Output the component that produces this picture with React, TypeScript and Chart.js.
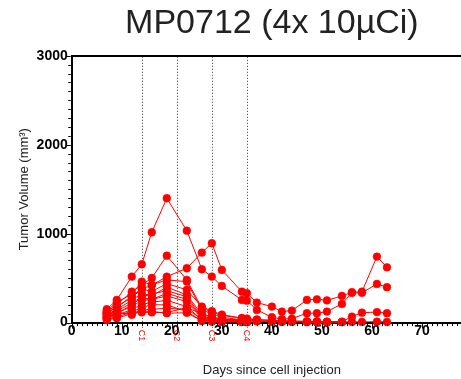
import React, { useEffect, useRef } from "react";
import { Chart, registerables } from "chart.js";

Chart.register(...registerables);

// ---- data ----
const titleText = "MP0712 (4x 10µCi)";
const xTitle = "Days since cell injection";
const yTitle = "Tumor Volume (mm³)";

const days = [7, 9, 12, 14, 16, 19, 23, 26, 28, 30, 34, 35, 37, 40, 42, 44, 47, 49, 51, 54, 56, 58, 61, 63];
const _ = null;

const mouseA = [150, 255, 517, 656, 1016, 1398, 1034, 600, 517, 412, 255, 247, 143, 60, 40, 45, 106, 106, 124, 210, 335, 335, 435, 398];
const mouseB = [110, 170, 300, 380, 420, 517, 611, 787, 892, 592, 348, 330, 225, 180, 124, 135, 255, 262, 250, 300, 341, 348, 742, 622];
const mouseC = [120, 200, 348, 424, 502, 753, 480, 165, 120, 80, 50, 40, 30, 25, 20, 20, 15, 15, 12, 10, 67, 112, 118, 106];
const mouseD = [60, 90, 120, 115, 115, 115, 165, 105, 60, 40, 25, 20, 15, 12, 10, 10, 8, 8, 8, 8, 8, 8, 10, 8];
const mouseE = [130, 230, 320, 461, 424, 480, 461, 142, 100, 60, 30, 25, 20, 15, 12, 10, 8, 5, 5, 5, _, _, _, _];
const mouseF = [110, 180, 280, 380, 350, 440, 368, 180, 130, 90, 50, 45, 35, 25, 20, 15, 10, 8, 6, _, _, _, _, _];
const mouseG = [90, 150, 250, 330, 300, 400, 311, 90, 60, 40, 30, 25, 20, 12, 10, _, _, _, _, _, _, _, _, _];
const mouseH = [80, 130, 220, 290, 320, 360, 290, 67, 50, 30, 20, 15, _, _, _, _, _, _, _, _, _, _, _, _];
const mouseI = [70, 110, 180, 250, 260, 300, 236, 50, 30, 20, 15, 12, _, _, _, _, _, _, _, _, _, _, _, _];
const mouseJ = [50, 80, 150, 200, 230, 250, 180, 30, 20, 15, 10, 10, _, _, _, _, _, _, _, _, _, _, _, _];
const mouseK = [40, 60, 120, 170, 200, 200, 124, 20, 15, 10, 8, 5, _, _, _, _, _, _, _, _, _, _, _, _];
const mouseL = [30, 50, 100, 140, 150, 160, 150, 40, 25, 15, 10, 8, _, _, _, _, _, _, _, _, _, _, _, _];
const mouseM = [100, 120, 87, 130, 124, 106, 110, 20, 11, 11, 10, 8, _, _, _, _, _, _, _, _, _, _, _, _];
const mouseN = [60, 100, 200, 280, 260, 330, 260, 60, 40, 25, 15, 12, _, _, _, _, _, _, _, _, _, _, _, _];

const seriesList = [mouseA, mouseB, mouseC, mouseD, mouseE, mouseF, mouseG, mouseH, mouseI, mouseJ, mouseK, mouseL, mouseM, mouseN];

const xMin = 0;
const xMax = 80;
const xStep = 10;
const xMinorStep = 1;
const yMin = 0;
const yMax = 3000;
const yStep = 1000;
const yMinorStep = 100;

const cycleDays = [14, 21, 28, 35];
const cycleLabels = ["C1", "C2", "C3", "C4"];

const FONT = "'Liberation Sans', Arial, sans-serif";
const RED = "rgb(255,0,0)";

const decorPlugin = {
  id: "decor",
  beforeDatasetsDraw(chart: any) {
    const { ctx, chartArea, scales } = chart;
    const x = scales.x;
    ctx.save();
    ctx.strokeStyle = "#333";
    ctx.lineWidth = 1;
    ctx.setLineDash([1, 2]);
    cycleDays.forEach((d) => {
      const px = Math.round(x.getPixelForValue(d)) + 0.5;
      ctx.beginPath();
      ctx.moveTo(px, chartArea.top + 1);
      ctx.lineTo(px, chartArea.bottom + 5);
      ctx.stroke();
    });
    ctx.restore();
  },
  afterDraw(chart: any) {
    const { ctx, chartArea, scales } = chart;
    const x = scales.x;
    const y = scales.y;
    ctx.save();
    ctx.strokeStyle = "#000";
    ctx.lineWidth = 1;
    for (let d = xMin; d <= xMax; d += xMinorStep) {
      const px = Math.round(x.getPixelForValue(d)) + 0.5;
      const len = d % xStep === 0 ? 5 : 2.5;
      ctx.beginPath();
      ctx.moveTo(px, chartArea.bottom + 1);
      ctx.lineTo(px, chartArea.bottom + 1 + len);
      ctx.stroke();
    }
    for (let v = yMin; v <= yMax; v += yMinorStep) {
      const py = Math.round(y.getPixelForValue(v)) + 0.5;
      const len = v % yStep === 0 ? 5 : 2.5;
      ctx.beginPath();
      ctx.moveTo(chartArea.left - 1, py);
      ctx.lineTo(chartArea.left - 1 - len, py);
      ctx.stroke();
    }
    ctx.fillStyle = RED;
    ctx.font = "9px " + FONT;
    ctx.textAlign = "center";
    ctx.textBaseline = "middle";
    cycleDays.forEach((d, i) => {
      const px = x.getPixelForValue(d);
      ctx.save();
      ctx.translate(px, chartArea.bottom + 13);
      ctx.rotate(Math.PI / 2);
      ctx.fillText(cycleLabels[i], 0, 0);
      ctx.restore();
    });
    ctx.restore();
  },
};

export default function App() {
  const ref = useRef<HTMLCanvasElement | null>(null);

  useEffect(() => {
    if (!ref.current) return;
    const datasets = seriesList.map((vals, k) => ({
      label: "Mouse " + (k + 1),
      data: days
        .map((d, i) => ({ x: d, y: vals[i] }))
        .filter((p) => p.y !== null && p.y !== undefined),
      borderColor: RED,
      backgroundColor: RED,
      borderWidth: 1,
      pointRadius: 3.9,
      pointBorderWidth: 0.5,
      pointBackgroundColor: RED,
      pointBorderColor: RED,
      tension: 0,
      clip: false as any,
    }));

    const chart = new Chart(ref.current, {
      type: "line",
      data: { datasets },
      plugins: [decorPlugin],
      options: {
        animation: false,
        responsive: false,
        devicePixelRatio: 1,
        layout: { padding: { left: 0, right: 18, top: 0, bottom: 1 } },
        plugins: {
          legend: { display: false },
          tooltip: { enabled: false },
          title: {
            display: true,
            text: titleText,
            fullSize: false,
            color: "#222",
            font: { family: FONT, size: 34, weight: "normal" },
            padding: { top: 3, bottom: 12 },
          },
        },
        scales: {
          x: {
            type: "linear",
            min: xMin,
            max: xMax,
            grid: { display: true, drawTicks: false, color: "rgba(0,0,0,0)" },
            border: { display: true, color: "#000", width: 2 },
            ticks: {
              stepSize: xStep,
              padding: 0,
              color: "#000",
              font: { family: FONT, size: 14, weight: "bold" },
              maxRotation: 0,
              autoSkip: false,
              callback: (v: any) => String(v),
            },
            title: {
              display: true,
              text: xTitle,
              color: "#222",
              font: { family: FONT, size: 13 },
              padding: { top: 23, bottom: 0 },
            },
          },
          y: {
            type: "linear",
            min: yMin,
            max: yMax,
            grid: {
              display: true,
              drawTicks: false,
              color: (c: any) => (c.tick && c.tick.value === yMax ? "#000" : "rgba(0,0,0,0)"),
              lineWidth: 2,
            },
            border: { display: true, color: "#000", width: 2 },
            ticks: {
              stepSize: yStep,
              padding: 4,
              color: "#000",
              font: { family: FONT, size: 14, weight: "bold" },
              callback: (v: any) => String(v),
            },
            title: {
              display: true,
              text: yTitle,
              color: "#222",
              font: { family: FONT, size: 13 },
              padding: { top: 17, bottom: 0 },
            },
          },
        },
      },
    });
    return () => chart.destroy();
  }, []);

  return (
    <div
      style={{
        position: "fixed",
        left: 0,
        top: 0,
        width: 461,
        height: 379,
        overflow: "hidden",
        background: "#fff",
      }}
    >
      <canvas ref={ref} width={490} height={379} style={{ width: 490, height: 379, display: "block" }} />
    </div>
  );
}
